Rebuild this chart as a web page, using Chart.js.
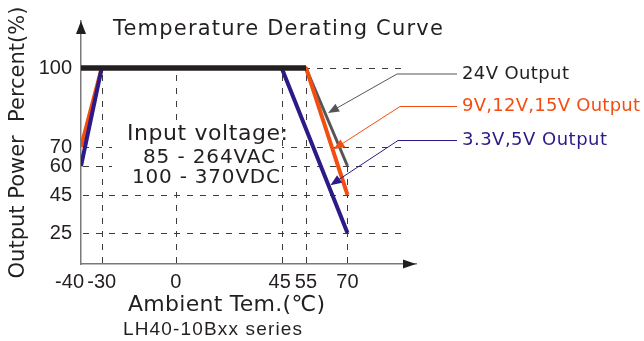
<!DOCTYPE html>
<html><head><meta charset="utf-8">
<script src="https://cdn.jsdelivr.net/npm/chart.js@4.4.1/dist/chart.umd.min.js"></script>
<style>html,body{margin:0;padding:0;background:#fff;}#wrap{width:644px;height:341px;}</style>
</head><body><div id="wrap"><canvas id="c" width="644" height="341"></canvas></div>
<script>
// ---------- data ----------
const chartTitle = 'Temperature Derating Curve';
const seriesNames = ['24V Output', '9V,12V,15V Output', '3.3V,5V Output'];
const temps24V = [-40, 55, 70];
const power24V = [100, 100, 60];
const temps9to15V = [-40, -30, 55, 70];
const power9to15V = [70, 100, 100, 45];
const temps3to5V = [-40, -30, 45, 70];
const power3to5V = [60, 100, 100, 25];
const xTickValues = [-40, -30, 0, 45, 55, 70];
const yTickValues = [25, 45, 60, 70, 100];
const xAxisTitle = 'Ambient Tem.(\u2103)';
const yAxisTitle = 'Output Power  Percent(%)';
const inputNote = ['Input voltage:', '85 - 264VAC', '100 - 370VDC'];
const seriesNote = 'LH40-10Bxx series';

// ---------- styling / layout ----------
const INK = '#231f20', GRAYL = '#555555', ORANGE = '#f24e12', PURPLE = '#2e1a86';
const AXIS = '#7a7a7a', DASH = '#3c3c3c';
// schematic (non-uniform) axis spacing of the original drawing
const WARP = {
  x: { values: [-40, -30, 0, 45, 55, 70, 95], fracs: [0, 0.0618, 0.2827, 0.599, 0.6716, 0.7955, 1] },
  y: { values: [0, 25, 45, 60, 70, 100, 125], fracs: [0, 0.1276, 0.284, 0.4033, 0.4815, 0.8066, 1] }
};
function interp(v, xs, ys) {
  let i = 0;
  while (i < xs.length - 2 && v > xs[i + 1]) i++;
  return ys[i] + (v - xs[i]) * (ys[i + 1] - ys[i]) / (xs[i + 1] - xs[i]);
}
class WarpScale extends Chart.LinearScale {
  getPixelForValue(value) {
    const w = WARP[this.axis];
    return this.getPixelForDecimal(interp(value, w.values, w.fracs));
  }
  getValueForPixel(pixel) {
    const w = WARP[this.axis];
    return interp(this.getDecimalForPixel(pixel), w.fracs, w.values);
  }
}
WarpScale.id = 'warp';
WarpScale.defaults = Chart.LinearScale.defaults;
Chart.register(WarpScale);

const pts = (xs, ys) => xs.map((x, i) => ({ x, y: ys[i] }));
const series = [
  { xs: temps24V, ys: power24V, color: GRAYL, textColor: INK, labelY: 74, labelW: 107, elbowX: 397, t: 0.46, dx: 3 },
  { xs: temps9to15V, ys: power9to15V, color: ORANGE, textColor: ORANGE, labelY: 106.5, labelW: 178, elbowX: 400, t: 0.64, dx: 1 },
  { xs: temps3to5V, ys: power3to5V, color: PURPLE, textColor: PURPLE, labelY: 140.5, labelW: 145, elbowX: 398, t: 0.71, dx: 2 }
];
function valueAt(s, v) {
  if (v < s.xs[0] || v > s.xs[s.xs.length - 1]) return -Infinity;
  return interp(v, s.xs, s.ys);
}
function line(label, data, color, width) {
  return { label, data, borderColor: color, borderWidth: width, pointRadius: 0, fill: false,
    tension: 0, borderCapStyle: 'butt', borderJoinStyle: 'bevel' };
}

function fitText(ctx, text, left, cy, width, font, color) {
  ctx.save();
  ctx.font = font; ctx.fillStyle = color; ctx.textAlign = 'left'; ctx.textBaseline = 'middle';
  ctx.letterSpacing = '0px';
  const natural = ctx.measureText(text).width;
  const n = [...text].length;
  const ls = n > 1 ? (width - natural) / (n - 1) : 0;
  ctx.letterSpacing = ls.toFixed(2) + 'px';
  ctx.fillText(text, left, cy);
  ctx.restore();
}
function arrowHead(ctx, tx, ty, ux, uy, len, half, color) {
  ctx.beginPath();
  ctx.moveTo(tx, ty);
  ctx.lineTo(tx - ux * len - uy * half, ty - uy * len + ux * half);
  ctx.lineTo(tx - ux * len + uy * half, ty - uy * len - ux * half);
  ctx.closePath();
  ctx.fillStyle = color; ctx.fill();
}

const decor = {
  id: 'decor',
  beforeDatasetsDraw(chart) {
    const { ctx, chartArea: a, scales: { x, y } } = chart;
    ctx.save();
    ctx.setLineDash([6, 7]); ctx.strokeStyle = DASH; ctx.lineWidth = 1;
    const x0 = x.getPixelForValue(xTickValues[0]);
    yTickValues.forEach(v => {
      const py = Math.round(y.getPixelForValue(v)) + 0.5;
      ctx.beginPath(); ctx.moveTo(x0 + 2, py); ctx.lineTo(a.right - 12, py); ctx.stroke();
    });
    xTickValues.slice(1).forEach(v => {
      const top = Math.max(...series.map(s => valueAt(s, v)));
      const px = Math.round(x.getPixelForValue(v)) + 0.5;
      ctx.beginPath(); ctx.moveTo(px, a.bottom - 1); ctx.lineTo(px, y.getPixelForValue(top)); ctx.stroke();
    });
    // white panel behind the input-voltage note
    ctx.fillStyle = '#ffffff';
    ctx.fillRect(112, 122, 170, 66);
    ctx.restore();
  },
  afterDraw(chart) {
    const { ctx, chartArea: a, scales: { x, y } } = chart;
    ctx.save();
    // axis arrows
    const ax = x.getPixelForValue(xTickValues[0]);
    arrowHead(ctx, ax, a.top, 0, -1, 13, 5, INK);
    arrowHead(ctx, a.right, a.bottom, 1, 0, 13, 4.5, INK);
    // title
    fitText(ctx, chartTitle, 113, 30, 330, '21px "DejaVu Sans"', INK);
    // x tick labels
    ctx.font = '20px "Liberation Sans"'; ctx.fillStyle = INK; ctx.textBaseline = 'middle';
    xTickValues.forEach((v, i) => {
      const px = x.getPixelForValue(v);
      if (i === 0) { ctx.textAlign = 'right'; ctx.fillText(String(v), px + 3, 282); }
      else { ctx.textAlign = 'center'; ctx.fillText(String(v), px - (v === 45 ? 2 : 0), 282); }
    });
    // x axis title and series note
    fitText(ctx, xAxisTitle, 128, 305, 197, '22px "DejaVu Sans"', INK);
    fitText(ctx, seriesNote, 123, 330, 179, '19px "Liberation Sans"', INK);
    // input voltage note
    fitText(ctx, inputNote[0], 127, 134, 161, '22px "DejaVu Sans"', INK);
    fitText(ctx, inputNote[1], 143, 157.5, 132, '20px "DejaVu Sans"', INK);
    fitText(ctx, inputNote[2], 132, 177.5, 148, '20px "DejaVu Sans"', INK);
    // series labels with leader arrows
    series.forEach((s, i) => {
      const n = s.xs.length;
      const p1x = x.getPixelForValue(s.xs[n - 2]), p1y = y.getPixelForValue(s.ys[n - 2]);
      const p2x = x.getPixelForValue(s.xs[n - 1]), p2y = y.getPixelForValue(s.ys[n - 1]);
      const tx = p1x + (p2x - p1x) * s.t + s.dx, ty = p1y + (p2y - p1y) * s.t;
      const ex = s.elbowX, ey = s.labelY;
      const dxl = tx - ex, dyl = ty - ey, L = Math.hypot(dxl, dyl);
      const ux = dxl / L, uy = dyl / L;
      ctx.strokeStyle = s.color; ctx.lineWidth = 1;
      ctx.beginPath();
      ctx.moveTo(457, ey); ctx.lineTo(ex, ey); ctx.lineTo(tx - ux * 10, ty - uy * 10);
      ctx.stroke();
      arrowHead(ctx, tx, ty, ux, uy, 11, 4.5, s.color);
      fitText(ctx, seriesNames[i], 462, s.labelY, s.labelW, '18px "DejaVu Sans"', s.textColor);
    });
    ctx.restore();
  }
};

new Chart(document.getElementById('c'), {
  type: 'line',
  data: {
    datasets: [
      line(seriesNames[0], pts(temps24V.slice(0, 2), power24V.slice(0, 2)), INK, 5.5),
      line(seriesNames[2], pts(temps3to5V, power3to5V), PURPLE, 4),
      line(seriesNames[1], pts(temps9to15V, power9to15V), ORANGE, 4),
      line(seriesNames[0], pts(temps24V.slice(1), power24V.slice(1)), GRAYL, 3)
    ]
  },
  options: {
    responsive: false, animation: false, devicePixelRatio: 1,
    layout: { padding: { left: 0, top: 21, right: 228, bottom: 0 } },
    plugins: { legend: { display: false }, tooltip: { enabled: false }, title: { display: false } },
    scales: {
      x: {
        type: 'warp', min: -40, max: 95,
        grid: { display: false, drawTicks: false },
        border: { display: true, color: AXIS, width: 1.5 },
        ticks: { display: false },
        afterFit(s) { s.height = 77; }
      },
      y: {
        type: 'warp', min: 0, max: 125,
        grid: { display: false, drawTicks: false },
        border: { display: true, color: AXIS, width: 1.5 },
        ticks: { color: INK, font: { family: 'Liberation Sans', size: 20 }, padding: 9, autoSkip: false },
        afterBuildTicks(s) { s.ticks = yTickValues.map(v => ({ value: v })); },
        afterFit(s) { s.width = 81; },
        title: { display: true, text: yAxisTitle, color: INK, font: { family: 'DejaVu Sans', size: 21 }, padding: { top: 6, bottom: 0 } }
      }
    }
  },
  plugins: [decor]
});
</script></body></html>
